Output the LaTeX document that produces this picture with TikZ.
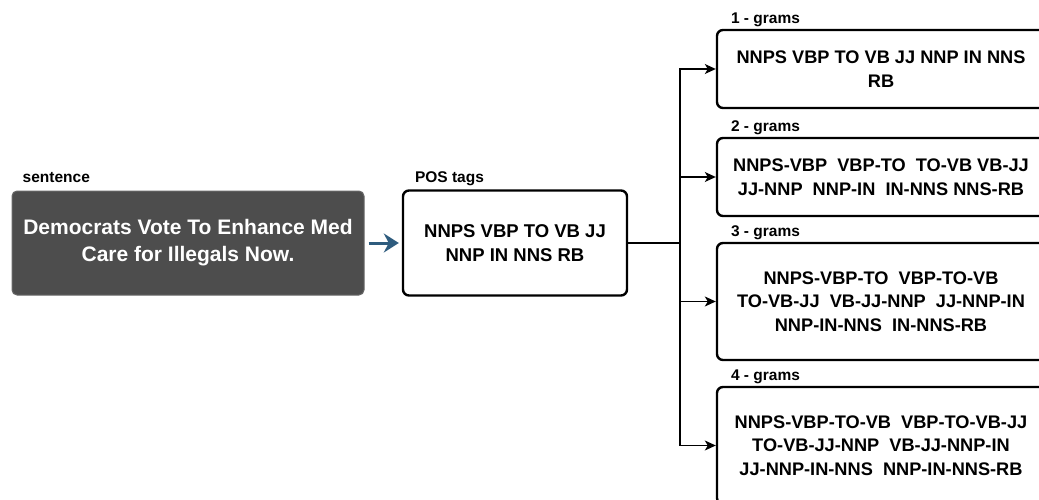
\documentclass[tikz,border=0pt]{standalone}
\usepackage{fontspec}
\setmainfont{Liberation Sans}
\usetikzlibrary{arrows.meta,calc}
\definecolor{darkbox}{HTML}{4D4D4D}
\definecolor{arrowblue}{HTML}{2E5C7E}
\begin{document}
\begin{tikzpicture}[x=1pt,y=-1pt,
  sentbox/.style={draw=darkbox!85!white, fill=darkbox, rounded corners=5pt, line width=1pt,
    minimum width=352pt, minimum height=104pt, align=center, text=white,
    font=\fontsize{21}{27}\selectfont\bfseries, inner sep=0pt},
  tagbox/.style={draw=black, fill=white, rounded corners=6pt, line width=2.4pt,
    align=center, font=\fontsize{18.2}{23.5}\selectfont\bfseries, inner sep=0pt},
  lbl/.style={anchor=base west, font=\fontsize{15.5}{17}\selectfont\bfseries, inner sep=0pt},
  conn/.style={line width=1.3pt, -{Stealth[length=11pt,width=10pt,inset=3pt]}},
  plain/.style={line width=1.3pt}
]
\useasboundingbox (0,0) rectangle (1039,500);
\clip (0,0) rectangle (1039,500);

\node[sentbox] (sent) at (188,243) {Democrats Vote To Enhance Med\\Care for Illegals Now.};
\node[tagbox, minimum width=224pt, minimum height=105pt, font=\fontsize{18.5}{24}\selectfont\bfseries] (pos) at (515,243) {NNPS VBP TO VB JJ\\NNP IN NNS RB};

\node[tagbox, minimum width=328pt, minimum height=78pt] (g1) at (881,69) {NNPS VBP TO VB JJ NNP IN NNS\\RB};
\node[tagbox, minimum width=328pt, minimum height=78pt] (g2) at (881,177) {NNPS-VBP\ \ VBP-TO\ \ TO-VB VB-JJ\\JJ-NNP\ \ NNP-IN\ \ IN-NNS NNS-RB};
\node[tagbox, minimum width=328pt, minimum height=117pt] (g3) at (881,301.5) {NNPS-VBP-TO\ \ VBP-TO-VB\\TO-VB-JJ\ \ VB-JJ-NNP\ \ JJ-NNP-IN\\NNP-IN-NNS\ \ IN-NNS-RB};
\node[tagbox, minimum width=328pt, minimum height=117pt] (g4) at (881,445.5) {NNPS-VBP-TO-VB\ \ VBP-TO-VB-JJ\\TO-VB-JJ-NNP\ \ VB-JJ-NNP-IN\\JJ-NNP-IN-NNS\ \ NNP-IN-NNS-RB};

\node[lbl] (lsent) at ([xshift=11pt,yshift=8pt]sent.north west) {sentence};
\node[lbl] (lpos) at ([xshift=13pt,yshift=7pt]pos.north west) {POS tags};
\node[lbl] (l1) at ([xshift=15pt,yshift=5pt]g1.north west) {1 - grams};
\node[lbl] (l2) at ([xshift=15pt,yshift=5pt]g2.north west) {2 - grams};
\node[lbl] (l3) at ([xshift=15pt,yshift=5pt]g3.north west) {3 - grams};
\node[lbl] (l4) at ([xshift=15pt,yshift=5pt]g4.north west) {4 - grams};

\draw[arrowblue, line width=3pt, -{Stealth[length=15pt,width=19pt,inset=5pt]}] ([xshift=4pt]sent.east) -- ([xshift=-3pt]pos.west);

\coordinate (split) at (680,243);
\draw[plain] (pos.east) -- (split);
\draw[conn] (split) |- (g1.west);
\draw[conn] (split) |- (g2.west);
\draw[conn] (split) |- (g3.west);
\draw[conn] (split) |- (g4.west);
\end{tikzpicture}
\end{document}
